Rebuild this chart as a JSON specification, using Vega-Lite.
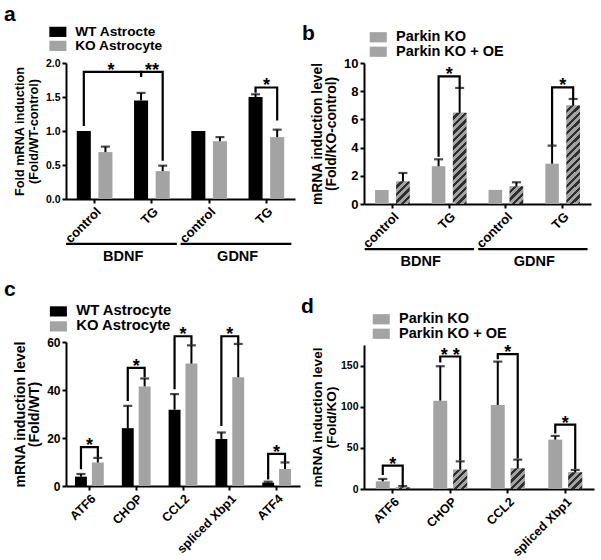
{
"$schema": "https://vega.github.io/schema/vega-lite/v6.json",
"background": "white",
"padding": {"left": 4, "top": 4, "right": 2, "bottom": 2},
"params": [{"name": "hatch", "value": [
{"offset":0,"color":"#a3a3a3"},{"offset":0.034375,"color":"#a3a3a3"},{"offset":0.034375,"color":"#2e2e2e"},{"offset":0.0625,"color":"#2e2e2e"},
{"offset":0.0625,"color":"#a3a3a3"},{"offset":0.096875,"color":"#a3a3a3"},{"offset":0.096875,"color":"#2e2e2e"},{"offset":0.125,"color":"#2e2e2e"},
{"offset":0.125,"color":"#a3a3a3"},{"offset":0.159375,"color":"#a3a3a3"},{"offset":0.159375,"color":"#2e2e2e"},{"offset":0.1875,"color":"#2e2e2e"},
{"offset":0.1875,"color":"#a3a3a3"},{"offset":0.221875,"color":"#a3a3a3"},{"offset":0.221875,"color":"#2e2e2e"},{"offset":0.25,"color":"#2e2e2e"},
{"offset":0.25,"color":"#a3a3a3"},{"offset":0.284375,"color":"#a3a3a3"},{"offset":0.284375,"color":"#2e2e2e"},{"offset":0.3125,"color":"#2e2e2e"},
{"offset":0.3125,"color":"#a3a3a3"},{"offset":0.346875,"color":"#a3a3a3"},{"offset":0.346875,"color":"#2e2e2e"},{"offset":0.375,"color":"#2e2e2e"},
{"offset":0.375,"color":"#a3a3a3"},{"offset":0.409375,"color":"#a3a3a3"},{"offset":0.409375,"color":"#2e2e2e"},{"offset":0.4375,"color":"#2e2e2e"},
{"offset":0.4375,"color":"#a3a3a3"},{"offset":0.471875,"color":"#a3a3a3"},{"offset":0.471875,"color":"#2e2e2e"},{"offset":0.5,"color":"#2e2e2e"},
{"offset":0.5,"color":"#a3a3a3"},{"offset":0.534375,"color":"#a3a3a3"},{"offset":0.534375,"color":"#2e2e2e"},{"offset":0.5625,"color":"#2e2e2e"},
{"offset":0.5625,"color":"#a3a3a3"},{"offset":0.596875,"color":"#a3a3a3"},{"offset":0.596875,"color":"#2e2e2e"},{"offset":0.625,"color":"#2e2e2e"},
{"offset":0.625,"color":"#a3a3a3"},{"offset":0.659375,"color":"#a3a3a3"},{"offset":0.659375,"color":"#2e2e2e"},{"offset":0.6875,"color":"#2e2e2e"},
{"offset":0.6875,"color":"#a3a3a3"},{"offset":0.721875,"color":"#a3a3a3"},{"offset":0.721875,"color":"#2e2e2e"},{"offset":0.75,"color":"#2e2e2e"},
{"offset":0.75,"color":"#a3a3a3"},{"offset":0.784375,"color":"#a3a3a3"},{"offset":0.784375,"color":"#2e2e2e"},{"offset":0.8125,"color":"#2e2e2e"},
{"offset":0.8125,"color":"#a3a3a3"},{"offset":0.846875,"color":"#a3a3a3"},{"offset":0.846875,"color":"#2e2e2e"},{"offset":0.875,"color":"#2e2e2e"},
{"offset":0.875,"color":"#a3a3a3"},{"offset":0.909375,"color":"#a3a3a3"},{"offset":0.909375,"color":"#2e2e2e"},{"offset":0.9375,"color":"#2e2e2e"},
{"offset":0.9375,"color":"#a3a3a3"},{"offset":0.971875,"color":"#a3a3a3"},{"offset":0.971875,"color":"#2e2e2e"},{"offset":1,"color":"#2e2e2e"}
]}],
"datasets": {
"a_bars": [
{"cat":"BDNF|control","series":"WT Astrocte","value":1.0,"upper":null},
{"cat":"BDNF|control","series":"KO Astrocyte","value":0.69,"upper":0.77},
{"cat":"BDNF|TG","series":"WT Astrocte","value":1.45,"upper":1.56},
{"cat":"BDNF|TG","series":"KO Astrocyte","value":0.41,"upper":0.49},
{"cat":"GDNF|control","series":"WT Astrocte","value":1.0,"upper":null},
{"cat":"GDNF|control","series":"KO Astrocyte","value":0.85,"upper":0.91},
{"cat":"GDNF|TG","series":"WT Astrocte","value":1.5,"upper":1.54},
{"cat":"GDNF|TG","series":"KO Astrocyte","value":0.91,"upper":1.02}
],
"a_brackets": [
{"id":1,"ord":1,"cat":"BDNF|control","series":"WT Astrocte","y":1.09},
{"id":1,"ord":2,"cat":"BDNF|control","series":"WT Astrocte","y":1.87},
{"id":1,"ord":3,"cat":"BDNF|TG","series":"WT Astrocte","y":1.87},
{"id":1,"ord":4,"cat":"BDNF|TG","series":"WT Astrocte","y":1.81},
{"id":2,"ord":1,"cat":"BDNF|TG","series":"WT Astrocte","y":1.81},
{"id":2,"ord":2,"cat":"BDNF|TG","series":"WT Astrocte","y":1.87},
{"id":2,"ord":3,"cat":"BDNF|TG","series":"KO Astrocyte","y":1.87},
{"id":2,"ord":4,"cat":"BDNF|TG","series":"KO Astrocyte","y":0.58},
{"id":3,"ord":1,"cat":"GDNF|TG","series":"WT Astrocte","y":1.58},
{"id":3,"ord":2,"cat":"GDNF|TG","series":"WT Astrocte","y":1.64},
{"id":3,"ord":3,"cat":"GDNF|TG","series":"KO Astrocyte","y":1.64},
{"id":3,"ord":4,"cat":"GDNF|TG","series":"KO Astrocyte","y":1.17}
],
"a_stars": [
{"cat":"BDNF|control","label":"*","y":1.87,"span":"across"},
{"cat":"BDNF|TG","label":"**","y":1.87,"span":"pair"},
{"cat":"GDNF|TG","label":"*","y":1.64,"span":"pair"}
],
"groups": [
{"gene":"BDNF","first":"BDNF|control","last":"BDNF|TG"},
{"gene":"GDNF","first":"GDNF|control","last":"GDNF|TG"}
],
"b_bars": [
{"cat":"BDNF|control","series":"Parkin KO","value":1.0,"upper":null},
{"cat":"BDNF|control","series":"Parkin KO + OE","value":1.6,"upper":2.2},
{"cat":"BDNF|TG","series":"Parkin KO","value":2.68,"upper":3.17},
{"cat":"BDNF|TG","series":"Parkin KO + OE","value":6.47,"upper":8.23},
{"cat":"GDNF|control","series":"Parkin KO","value":1.0,"upper":null},
{"cat":"GDNF|control","series":"Parkin KO + OE","value":1.25,"upper":1.54},
{"cat":"GDNF|TG","series":"Parkin KO","value":2.86,"upper":4.14},
{"cat":"GDNF|TG","series":"Parkin KO + OE","value":6.98,"upper":7.45}
],
"b_brackets": [
{"id":1,"ord":1,"cat":"BDNF|TG","series":"Parkin KO","y":3.43},
{"id":1,"ord":2,"cat":"BDNF|TG","series":"Parkin KO","y":9.05},
{"id":1,"ord":3,"cat":"BDNF|TG","series":"Parkin KO + OE","y":9.05},
{"id":1,"ord":4,"cat":"BDNF|TG","series":"Parkin KO + OE","y":8.23},
{"id":2,"ord":1,"cat":"GDNF|TG","series":"Parkin KO","y":4.26},
{"id":2,"ord":2,"cat":"GDNF|TG","series":"Parkin KO","y":8.27},
{"id":2,"ord":3,"cat":"GDNF|TG","series":"Parkin KO + OE","y":8.27},
{"id":2,"ord":4,"cat":"GDNF|TG","series":"Parkin KO + OE","y":7.45}
],
"b_stars": [
{"cat":"BDNF|TG","label":"*","y":9.05},
{"cat":"GDNF|TG","label":"*","y":8.27}
],
"c_bars": [
{"cat":"ATF6","series":"WT Astrocyte","value":3.9,"upper":5.0},
{"cat":"ATF6","series":"KO Astrocyte","value":9.8,"upper":11.7},
{"cat":"CHOP","series":"WT Astrocyte","value":24.1,"upper":33.4},
{"cat":"CHOP","series":"KO Astrocyte","value":41.5,"upper":44.8},
{"cat":"CCL2","series":"WT Astrocyte","value":31.8,"upper":38.3},
{"cat":"CCL2","series":"KO Astrocyte","value":51.0,"upper":58.6},
{"cat":"spliced Xbp1","series":"WT Astrocyte","value":19.6,"upper":22.3},
{"cat":"spliced Xbp1","series":"KO Astrocyte","value":45.3,"upper":59.2},
{"cat":"ATF4","series":"WT Astrocyte","value":1.4,"upper":1.8},
{"cat":"ATF4","series":"KO Astrocyte","value":7.1,"upper":9.8}
],
"c_brackets": [
{"id":1,"ord":1,"cat":"ATF6","series":"WT Astrocyte","y":7.4},
{"id":1,"ord":2,"cat":"ATF6","series":"WT Astrocyte","y":16.2},
{"id":1,"ord":3,"cat":"ATF6","series":"KO Astrocyte","y":16.2},
{"id":1,"ord":4,"cat":"ATF6","series":"KO Astrocyte","y":12.4},
{"id":2,"ord":1,"cat":"CHOP","series":"WT Astrocyte","y":35.9},
{"id":2,"ord":2,"cat":"CHOP","series":"WT Astrocyte","y":49.2},
{"id":2,"ord":3,"cat":"CHOP","series":"KO Astrocyte","y":49.2},
{"id":2,"ord":4,"cat":"CHOP","series":"KO Astrocyte","y":45.8},
{"id":3,"ord":1,"cat":"CCL2","series":"WT Astrocyte","y":40.8},
{"id":3,"ord":2,"cat":"CCL2","series":"WT Astrocyte","y":62.4},
{"id":3,"ord":3,"cat":"CCL2","series":"KO Astrocyte","y":62.4},
{"id":3,"ord":4,"cat":"CCL2","series":"KO Astrocyte","y":59.3},
{"id":4,"ord":1,"cat":"spliced Xbp1","series":"WT Astrocyte","y":25.5},
{"id":4,"ord":2,"cat":"spliced Xbp1","series":"WT Astrocyte","y":62.4},
{"id":4,"ord":3,"cat":"spliced Xbp1","series":"KO Astrocyte","y":62.4},
{"id":4,"ord":4,"cat":"spliced Xbp1","series":"KO Astrocyte","y":59.8},
{"id":5,"ord":1,"cat":"ATF4","series":"WT Astrocyte","y":3.2},
{"id":5,"ord":2,"cat":"ATF4","series":"WT Astrocyte","y":13.4},
{"id":5,"ord":3,"cat":"ATF4","series":"KO Astrocyte","y":13.4},
{"id":5,"ord":4,"cat":"ATF4","series":"KO Astrocyte","y":10.5}
],
"c_stars": [
{"cat":"ATF6","label":"*","y":16.2},
{"cat":"CHOP","label":"*","y":49.2},
{"cat":"CCL2","label":"*","y":62.4},
{"cat":"spliced Xbp1","label":"*","y":62.4},
{"cat":"ATF4","label":"*","y":13.4}
],
"d_bars": [
{"cat":"ATF6","series":"Parkin KO","value":9.3,"upper":12.2},
{"cat":"ATF6","series":"Parkin KO + OE","value":2.0,"upper":3.6},
{"cat":"CHOP","series":"Parkin KO","value":107.4,"upper":149.2},
{"cat":"CHOP","series":"Parkin KO + OE","value":23.5,"upper":33.6},
{"cat":"CCL2","series":"Parkin KO","value":102.1,"upper":154.8},
{"cat":"CCL2","series":"Parkin KO + OE","value":25.1,"upper":35.7},
{"cat":"spliced Xbp1","series":"Parkin KO","value":60.0,"upper":64.5},
{"cat":"spliced Xbp1","series":"Parkin KO + OE","value":20.3,"upper":23.1}
],
"d_brackets": [
{"id":1,"ord":1,"cat":"ATF6","series":"Parkin KO","y":18.2},
{"id":1,"ord":2,"cat":"ATF6","series":"Parkin KO","y":28.4},
{"id":1,"ord":3,"cat":"ATF6","series":"Parkin KO + OE","y":28.4},
{"id":1,"ord":4,"cat":"ATF6","series":"Parkin KO + OE","y":4.5},
{"id":2,"ord":1,"cat":"CHOP","series":"Parkin KO","y":155},
{"id":2,"ord":2,"cat":"CHOP","series":"Parkin KO","y":161},
{"id":2,"ord":3,"cat":"CHOP","series":"Parkin KO + OE","y":161},
{"id":2,"ord":4,"cat":"CHOP","series":"Parkin KO + OE","y":36},
{"id":3,"ord":1,"cat":"CCL2","series":"Parkin KO","y":159},
{"id":3,"ord":2,"cat":"CCL2","series":"Parkin KO","y":164},
{"id":3,"ord":3,"cat":"CCL2","series":"Parkin KO + OE","y":164},
{"id":3,"ord":4,"cat":"CCL2","series":"Parkin KO + OE","y":38.5},
{"id":4,"ord":1,"cat":"spliced Xbp1","series":"Parkin KO","y":68.9},
{"id":4,"ord":2,"cat":"spliced Xbp1","series":"Parkin KO","y":78.2},
{"id":4,"ord":3,"cat":"spliced Xbp1","series":"Parkin KO + OE","y":78.2},
{"id":4,"ord":4,"cat":"spliced Xbp1","series":"Parkin KO + OE","y":25.5}
],
"d_stars": [
{"cat":"ATF6","label":"*","y":28.4},
{"cat":"CHOP","label":"* *","y":161},
{"cat":"CCL2","label":"*","y":164},
{"cat":"spliced Xbp1","label":"*","y":78.2}
]
},
"config": {
"font": "Liberation Sans",
"view": {"stroke": null},
"axis": {"domainColor": "black", "tickColor": "black", "labelColor": "black", "titleColor": "black", "grid": false, "domainWidth": 2, "tickWidth": 2, "tickSize": 4, "labelFontWeight": "bold", "titleFontWeight": "bold", "labelOverlap": false},
"axisX": {"labelFontSize": 13, "labelAngle": -45, "labelPadding": 2},
"axisY": {"labelFontSize": 11, "labelPadding": 2, "titlePadding": 5, "titleLineHeight": 14, "labelOverlap": false},
"legend": {"labelFontSize": 14, "labelFontWeight": "bold", "labelColor": "black", "padding": 0, "rowPadding": -2, "labelOffset": 10.5, "symbolStrokeWidth": 0},
"title": {"anchor": "start", "frame": "group", "fontSize": 21, "fontWeight": "bold", "color": "black", "offset": 4, "dx": -62},
"text": {"color": "black"}
},
"resolve": {"scale": {"color": "independent", "xOffset": "independent"}, "legend": {"color": "independent"}},
"spacing": 1,
"hconcat": [
{"spacing": 15, "resolve": {"scale": {"color": "independent", "xOffset": "independent"}, "legend": {"color": "independent"}}, "vconcat": [
{"width": 229, "height": 136, "title": {"text": "a", "offset": 0},
 "layer": [
  {"data": {"name": "a_bars"}, "mark": "bar",
   "encoding": {
    "x": {"field": "cat", "type": "nominal", "scale": {"domain": ["BDNF|control","BDNF|TG","GDNF|control","GDNF|TG"], "paddingInner": 0.377, "paddingOuter": 0.1885}, "axis": {"title": null, "labelExpr": "split(datum.label, '|')[1]", "labelFontSize": 13}},
    "xOffset": {"field": "series", "type": "nominal", "scale": {"domain": ["WT Astrocte","KO Astrocyte"], "paddingInner": 0.35, "paddingOuter": 0}},
    "y": {"field": "value", "type": "quantitative", "scale": {"domain": [0, 2], "nice": false}, "axis": {"values": [0, 0.5, 1, 1.5, 2], "format": ".1f", "labelOverlap": false, "title": ["Fold mRNA induction", "(Fold/WT-control)"], "titleFontSize": 12.7, "labelFontSize": 10.5}},
    "color": {"field": "series", "type": "nominal", "scale": {"domain": ["WT Astrocte","KO Astrocyte"], "range": ["#000000", "#a3a3a3"]}, "legend": {"title": null, "orient": "none", "legendX": -15, "legendY": -38, "symbolType": "M-1.42,-0.85H1.42V0.85H-1.42Z", "symbolSize": 144, "labelFontSize": 13.7}}
   }},
  {"data": {"name": "a_bars"}, "transform": [{"filter": "datum.upper != null"}], "mark": {"type": "rule", "color": "black", "strokeWidth": 2},
   "encoding": {"x": {"field": "cat", "type": "nominal"}, "xOffset": {"field": "series", "type": "nominal"}, "y": {"field": "value", "type": "quantitative", "axis": {"values": [0, 0.5, 1, 1.5, 2], "format": ".1f", "labelOverlap": false}}, "y2": {"field": "upper"}}},
  {"data": {"name": "a_bars"}, "transform": [{"filter": "datum.upper != null"}], "mark": {"type": "tick", "color": "black", "size": 9, "thickness": 2.2, "orient": "horizontal"},
   "encoding": {"x": {"field": "cat", "type": "nominal"}, "xOffset": {"field": "series", "type": "nominal"}, "y": {"field": "upper", "type": "quantitative", "axis": {"values": [0, 0.5, 1, 1.5, 2], "format": ".1f", "labelOverlap": false}}}},
  {"data": {"name": "a_brackets"}, "mark": {"type": "line", "color": "black", "strokeWidth": 2.2, "strokeJoin": "miter", "strokeCap": "square"},
   "encoding": {"x": {"field": "cat", "type": "nominal"}, "xOffset": {"field": "series", "type": "nominal"}, "y": {"field": "y", "type": "quantitative", "axis": {"values": [0, 0.5, 1, 1.5, 2], "format": ".1f", "labelOverlap": false}}, "detail": {"field": "id", "type": "nominal"}, "order": {"field": "ord", "type": "quantitative"}}},
  {"data": {"name": "a_stars"}, "transform": [{"filter": "datum.span == 'pair'"}], "mark": {"type": "text", "fontSize": 18, "fontWeight": "bold", "baseline": "alphabetic", "dy": 4},
   "encoding": {"x": {"field": "cat", "type": "nominal"}, "y": {"field": "y", "type": "quantitative", "axis": {"values": [0, 0.5, 1, 1.5, 2], "format": ".1f", "labelOverlap": false}}, "text": {"field": "label"}}},
  {"data": {"name": "a_stars"}, "transform": [{"filter": "datum.span == 'across'"}], "mark": {"type": "text", "fontSize": 18, "fontWeight": "bold", "baseline": "alphabetic", "dy": 4},
   "encoding": {"x": {"field": "cat", "type": "nominal", "bandPosition": 0.96}, "y": {"field": "y", "type": "quantitative", "axis": {"values": [0, 0.5, 1, 1.5, 2], "format": ".1f", "labelOverlap": false}}, "text": {"field": "label"}}},
  {"data": {"name": "groups"}, "mark": {"type": "rule", "color": "black", "strokeWidth": 2.2},
   "encoding": {"x": {"field": "first", "type": "nominal", "bandPosition": -0.3}, "x2": {"field": "last", "bandPosition": 1.2}, "y": {"datum": -0.66, "axis": {"values": [0, 0.5, 1, 1.5, 2], "format": ".1f", "labelOverlap": false}}}},
  {"data": {"name": "groups"}, "mark": {"type": "text", "fontSize": 14.5, "fontWeight": "bold", "baseline": "middle"},
   "encoding": {"x": {"field": "first", "type": "nominal", "bandPosition": 1.3}, "y": {"datum": -0.85, "axis": {"values": [0, 0.5, 1, 1.5, 2], "format": ".1f", "labelOverlap": false}}, "text": {"field": "gene"}}}
 ]},
{"width": 234, "height": 144, "title": {"text": "c", "offset": 4},
 "layer": [
  {"data": {"name": "c_bars"}, "mark": "bar",
   "encoding": {
    "x": {"field": "cat", "type": "nominal", "scale": {"domain": ["ATF6","CHOP","CCL2","spliced Xbp1","ATF4"], "paddingInner": 0.385, "paddingOuter": 0.1925}, "axis": {"title": null, "labelFontSize": 12.5}},
    "xOffset": {"field": "series", "type": "nominal", "scale": {"domain": ["WT Astrocyte","KO Astrocyte"], "paddingInner": 0.294, "paddingOuter": 0}},
    "y": {"field": "value", "type": "quantitative", "scale": {"domain": [0, 60], "nice": false}, "axis": {"values": [0, 20, 40, 60], "labelOverlap": false, "title": ["mRNA induction level", "(Fold/WT)"], "titleFontSize": 14.2, "labelFontSize": 12}},
    "color": {"field": "series", "type": "nominal", "scale": {"domain": ["WT Astrocyte","KO Astrocyte"], "range": ["#000000", "#a3a3a3"]}, "legend": {"title": null, "orient": "none", "legendX": -15, "legendY": -38, "symbolType": "M-1.42,-0.85H1.42V0.85H-1.42Z", "symbolSize": 144, "labelFontSize": 14.8}}
   }},
  {"data": {"name": "c_bars"}, "mark": {"type": "rule", "color": "black", "strokeWidth": 2},
   "encoding": {"x": {"field": "cat", "type": "nominal"}, "xOffset": {"field": "series", "type": "nominal"}, "y": {"field": "value", "type": "quantitative", "axis": {"values": [0, 20, 40, 60], "labelOverlap": false}}, "y2": {"field": "upper"}}},
  {"data": {"name": "c_bars"}, "mark": {"type": "tick", "color": "black", "size": 9, "thickness": 2.2, "orient": "horizontal"},
   "encoding": {"x": {"field": "cat", "type": "nominal"}, "xOffset": {"field": "series", "type": "nominal"}, "y": {"field": "upper", "type": "quantitative", "axis": {"values": [0, 20, 40, 60], "labelOverlap": false}}}},
  {"data": {"name": "c_brackets"}, "mark": {"type": "line", "color": "black", "strokeWidth": 2.2, "strokeJoin": "miter", "strokeCap": "square"},
   "encoding": {"x": {"field": "cat", "type": "nominal"}, "xOffset": {"field": "series", "type": "nominal"}, "y": {"field": "y", "type": "quantitative", "axis": {"values": [0, 20, 40, 60], "labelOverlap": false}}, "detail": {"field": "id", "type": "nominal"}, "order": {"field": "ord", "type": "quantitative"}}},
  {"data": {"name": "c_stars"}, "mark": {"type": "text", "fontSize": 18, "fontWeight": "bold", "baseline": "alphabetic", "dy": 4},
   "encoding": {"x": {"field": "cat", "type": "nominal"}, "y": {"field": "y", "type": "quantitative", "axis": {"values": [0, 20, 40, 60], "labelOverlap": false}}, "text": {"field": "label"}}}
 ]}
]},
{"spacing": 27, "resolve": {"scale": {"color": "independent", "xOffset": "independent"}, "legend": {"color": "independent"}}, "vconcat": [
{"width": 227, "height": 141, "title": {"text": "b", "offset": -14},
 "layer": [
  {"data": {"name": "b_bars"}, "mark": "bar",
   "encoding": {
    "x": {"field": "cat", "type": "nominal", "scale": {"domain": ["BDNF|control","BDNF|TG","GDNF|control","GDNF|TG"], "paddingInner": 0.39, "paddingOuter": 0.195}, "axis": {"title": null, "labelExpr": "split(datum.label, '|')[1]", "labelFontSize": 13}},
    "xOffset": {"field": "series", "type": "nominal", "scale": {"domain": ["Parkin KO","Parkin KO + OE"], "paddingInner": 0.357, "paddingOuter": 0}},
    "y": {"field": "value", "type": "quantitative", "scale": {"domain": [0, 10], "nice": false}, "axis": {"values": [0, 2, 4, 6, 8, 10], "labelOverlap": false, "title": ["mRNA induction level", "(Fold/KO-control)"], "titleFontSize": 13.8, "labelFontSize": 13}},
    "color": {"field": "series", "type": "nominal", "scale": {"domain": ["Parkin KO","Parkin KO + OE"], "range": ["#a3a3a3", "#a3a3a3"]}, "legend": {"title": null, "orient": "none", "legendX": 7, "legendY": -33, "rowPadding": -0.5, "symbolType": "M-1.42,-0.85H1.42V0.85H-1.42Z", "symbolSize": 144, "labelFontSize": 14.5,
      "encode": {"symbols": {"update": {"fill": {"signal": "datum.label === 'Parkin KO + OE' ? {gradient: 'linear', x1: 0, y1: 0, x2: 5.19, y2: 3.11, stops: hatch} : '#a3a3a3'"}}}}}}
   }},
  {"data": {"name": "b_bars"}, "transform": [{"filter": "datum.series == 'Parkin KO + OE'"}],
   "mark": {"type": "bar", "fill": {"expr": "{gradient: 'linear', x1: 0, y1: 0, x2: 120*13.5/(182.25+pow(datum.value*14.1,2)), y2: 120*datum.value*14.1/(182.25+pow(datum.value*14.1,2)), stops: hatch}"}},
   "encoding": {"x": {"field": "cat", "type": "nominal"}, "xOffset": {"field": "series", "type": "nominal"}, "y": {"field": "value", "type": "quantitative", "axis": {"values": [0, 2, 4, 6, 8, 10], "labelOverlap": false}}}},
  {"data": {"name": "b_bars"}, "transform": [{"filter": "datum.upper != null"}], "mark": {"type": "rule", "color": "black", "strokeWidth": 2},
   "encoding": {"x": {"field": "cat", "type": "nominal"}, "xOffset": {"field": "series", "type": "nominal"}, "y": {"field": "value", "type": "quantitative", "axis": {"values": [0, 2, 4, 6, 8, 10], "labelOverlap": false}}, "y2": {"field": "upper"}}},
  {"data": {"name": "b_bars"}, "transform": [{"filter": "datum.upper != null"}], "mark": {"type": "tick", "color": "black", "size": 9, "thickness": 2.2, "orient": "horizontal"},
   "encoding": {"x": {"field": "cat", "type": "nominal"}, "xOffset": {"field": "series", "type": "nominal"}, "y": {"field": "upper", "type": "quantitative", "axis": {"values": [0, 2, 4, 6, 8, 10], "labelOverlap": false}}}},
  {"data": {"name": "b_brackets"}, "mark": {"type": "line", "color": "black", "strokeWidth": 2.2, "strokeJoin": "miter", "strokeCap": "square"},
   "encoding": {"x": {"field": "cat", "type": "nominal"}, "xOffset": {"field": "series", "type": "nominal"}, "y": {"field": "y", "type": "quantitative", "axis": {"values": [0, 2, 4, 6, 8, 10], "labelOverlap": false}}, "detail": {"field": "id", "type": "nominal"}, "order": {"field": "ord", "type": "quantitative"}}},
  {"data": {"name": "b_stars"}, "mark": {"type": "text", "fontSize": 18, "fontWeight": "bold", "baseline": "alphabetic", "dy": 4},
   "encoding": {"x": {"field": "cat", "type": "nominal"}, "y": {"field": "y", "type": "quantitative", "axis": {"values": [0, 2, 4, 6, 8, 10], "labelOverlap": false}}, "text": {"field": "label"}}},
  {"data": {"name": "groups"}, "mark": {"type": "rule", "color": "black", "strokeWidth": 2.2},
   "encoding": {"x": {"field": "first", "type": "nominal", "bandPosition": -0.3}, "x2": {"field": "last", "bandPosition": 1.22}, "y": {"datum": -3.2, "axis": {"values": [0, 2, 4, 6, 8, 10], "labelOverlap": false}}}},
  {"data": {"name": "groups"}, "mark": {"type": "text", "fontSize": 14.5, "fontWeight": "bold", "baseline": "middle"},
   "encoding": {"x": {"field": "first", "type": "nominal", "bandPosition": 1.32}, "y": {"datum": -4.1, "axis": {"values": [0, 2, 4, 6, 8, 10], "labelOverlap": false}}, "text": {"field": "gene"}}}
 ]},
{"width": 230, "height": 144, "title": {"text": "d", "offset": -5, "dx": -63},
 "layer": [
  {"data": {"name": "d_bars"}, "mark": "bar",
   "encoding": {
    "x": {"field": "cat", "type": "nominal", "scale": {"domain": ["ATF6","CHOP","CCL2","spliced Xbp1"], "paddingInner": 0.41, "paddingOuter": 0.205}, "axis": {"title": null, "labelFontSize": 12.5}},
    "xOffset": {"field": "series", "type": "nominal", "scale": {"domain": ["Parkin KO","Parkin KO + OE"], "paddingInner": 0.3, "paddingOuter": 0}},
    "y": {"field": "value", "type": "quantitative", "scale": {"domain": [0, 175], "nice": false}, "axis": {"values": [0, 50, 100, 150], "labelOverlap": false, "title": ["mRNA induction level", "(Fold/KO)"], "titleFontSize": 13.6, "labelFontSize": 10.5, "titlePadding": 2}},
    "color": {"field": "series", "type": "nominal", "scale": {"domain": ["Parkin KO","Parkin KO + OE"], "range": ["#a3a3a3", "#a3a3a3"]}, "legend": {"title": null, "orient": "none", "legendX": 10, "legendY": -33, "rowPadding": -0.5, "symbolType": "M-1.42,-0.85H1.42V0.85H-1.42Z", "symbolSize": 144, "labelFontSize": 14.5,
      "encode": {"symbols": {"update": {"fill": {"signal": "datum.label === 'Parkin KO + OE' ? {gradient: 'linear', x1: 0, y1: 0, x2: 5.19, y2: 3.11, stops: hatch} : '#a3a3a3'"}}}}}}
   }},
  {"data": {"name": "d_bars"}, "transform": [{"filter": "datum.series == 'Parkin KO + OE'"}],
   "mark": {"type": "bar", "fill": {"expr": "{gradient: 'linear', x1: 0, y1: 0, x2: 120*14/(196+pow(datum.value*0.8229,2)), y2: 120*datum.value*0.8229/(196+pow(datum.value*0.8229,2)), stops: hatch}"}},
   "encoding": {"x": {"field": "cat", "type": "nominal"}, "xOffset": {"field": "series", "type": "nominal"}, "y": {"field": "value", "type": "quantitative", "axis": {"values": [0, 50, 100, 150], "labelOverlap": false}}}},
  {"data": {"name": "d_bars"}, "mark": {"type": "rule", "color": "black", "strokeWidth": 2},
   "encoding": {"x": {"field": "cat", "type": "nominal"}, "xOffset": {"field": "series", "type": "nominal"}, "y": {"field": "value", "type": "quantitative", "axis": {"values": [0, 50, 100, 150], "labelOverlap": false}}, "y2": {"field": "upper"}}},
  {"data": {"name": "d_bars"}, "mark": {"type": "tick", "color": "black", "size": 9, "thickness": 2.2, "orient": "horizontal"},
   "encoding": {"x": {"field": "cat", "type": "nominal"}, "xOffset": {"field": "series", "type": "nominal"}, "y": {"field": "upper", "type": "quantitative", "axis": {"values": [0, 50, 100, 150], "labelOverlap": false}}}},
  {"data": {"name": "d_brackets"}, "mark": {"type": "line", "color": "black", "strokeWidth": 2.2, "strokeJoin": "miter", "strokeCap": "square"},
   "encoding": {"x": {"field": "cat", "type": "nominal"}, "xOffset": {"field": "series", "type": "nominal"}, "y": {"field": "y", "type": "quantitative", "axis": {"values": [0, 50, 100, 150], "labelOverlap": false}}, "detail": {"field": "id", "type": "nominal"}, "order": {"field": "ord", "type": "quantitative"}}},
  {"data": {"name": "d_stars"}, "mark": {"type": "text", "fontSize": 18, "fontWeight": "bold", "baseline": "alphabetic", "dy": 4},
   "encoding": {"x": {"field": "cat", "type": "nominal"}, "y": {"field": "y", "type": "quantitative", "axis": {"values": [0, 50, 100, 150], "labelOverlap": false}}, "text": {"field": "label"}}}
 ]}
]}
]
}
